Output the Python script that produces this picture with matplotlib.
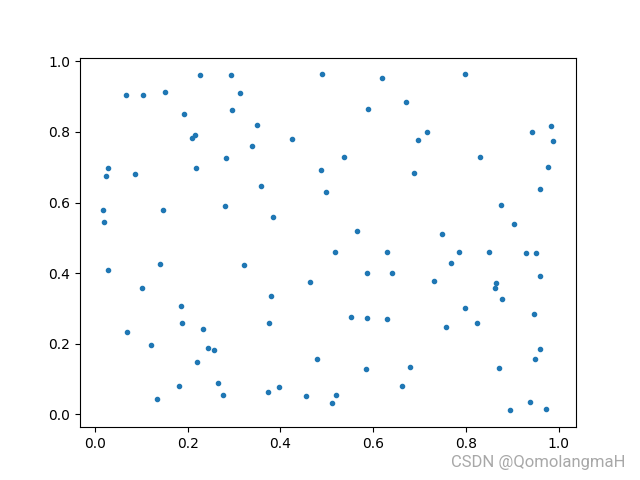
import matplotlib
matplotlib.use("Agg")
import matplotlib.pyplot as plt
import numpy as np

# coordinates
x = [0.226, 0.293, 0.066, 0.103, 0.150, 0.313, 0.192, 0.295, 0.215, 0.209,
     0.282, 0.027, 0.023, 0.086, 0.217, 0.016, 0.146, 0.280, 0.019,
     0.490, 0.620, 0.671, 0.589, 0.349, 0.339, 0.425, 0.537, 0.488, 0.358,
     0.498, 0.384, 0.566,
     0.799, 0.717, 0.697, 0.942, 0.983, 0.989, 0.831, 0.689, 0.978, 0.961,
     0.875, 0.903, 0.749,
     0.027, 0.140, 0.321, 0.101, 0.185, 0.187, 0.068, 0.233, 0.120, 0.243,
     0.256, 0.220, 0.265, 0.181, 0.276, 0.133,
     0.518, 0.630, 0.587, 0.641, 0.464, 0.380, 0.375, 0.553, 0.587, 0.630,
     0.479, 0.585, 0.663, 0.372, 0.397, 0.455, 0.520, 0.511,
     0.786, 0.849, 0.929, 0.952, 0.767, 0.732, 0.864, 0.862, 0.961, 0.877,
     0.799, 0.823, 0.758, 0.948, 0.961, 0.950, 0.680, 0.872, 0.939, 0.896,
     0.972]
y = [0.960, 0.960, 0.906, 0.906, 0.912, 0.909, 0.850, 0.861, 0.790, 0.782,
     0.725, 0.699, 0.674, 0.682, 0.697, 0.578, 0.578, 0.589, 0.544,
     0.963, 0.954, 0.884, 0.864, 0.821, 0.759, 0.779, 0.728, 0.691, 0.646,
     0.629, 0.558, 0.518,
     0.963, 0.801, 0.776, 0.799, 0.818, 0.773, 0.728, 0.685, 0.702, 0.637,
     0.592, 0.538, 0.510,
     0.408, 0.425, 0.422, 0.357, 0.306, 0.260, 0.232, 0.241, 0.195, 0.187,
     0.181, 0.147, 0.088, 0.079, 0.054, 0.042,
     0.461, 0.459, 0.399, 0.399, 0.374, 0.334, 0.258, 0.277, 0.272, 0.269,
     0.158, 0.127, 0.079, 0.062, 0.076, 0.051, 0.056, 0.031,
     0.459, 0.459, 0.456, 0.456, 0.430, 0.379, 0.371, 0.357, 0.393, 0.328,
     0.300, 0.258, 0.246, 0.283, 0.184, 0.158, 0.133, 0.130, 0.034, 0.011,
     0.014]

fig = plt.figure(figsize=(6.4, 4.8), dpi=100)
plt.plot(x, y, '.')
fig.text(0.977, 0.028, "CSDN @QomolangmaH", ha="right", va="baseline",
         fontsize=12, color="#a8a8a8", family=["Roboto", "DejaVu Sans"])
plt.savefig("out.png")
